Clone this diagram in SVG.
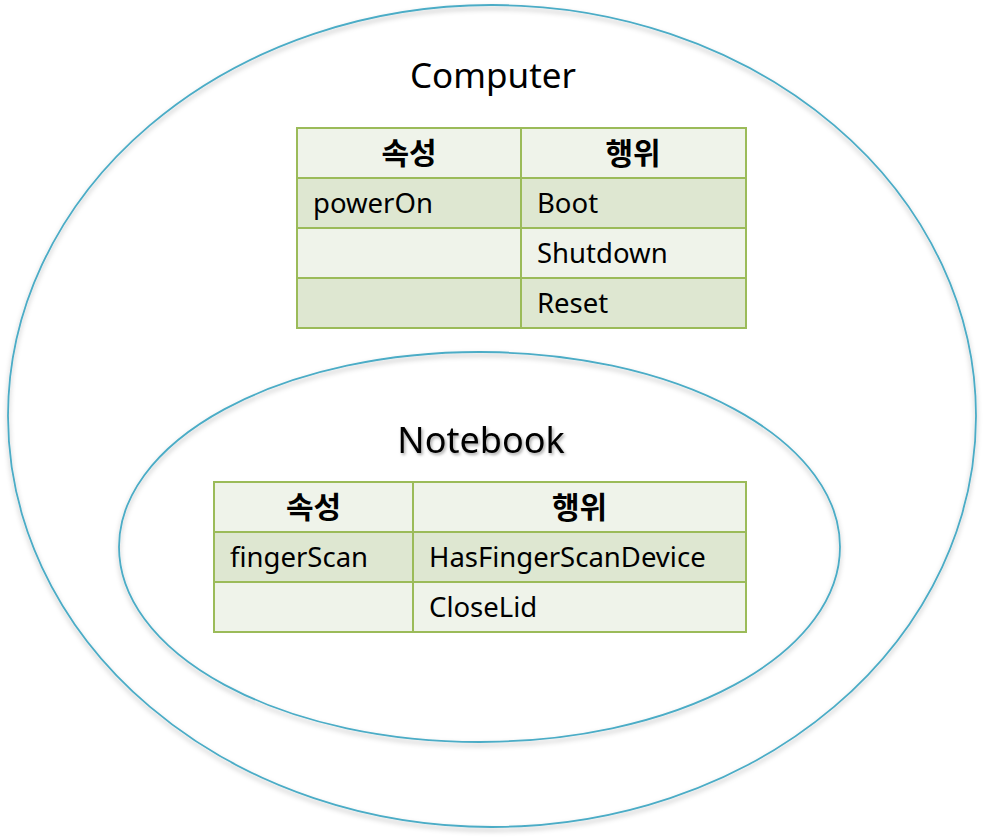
<svg xmlns="http://www.w3.org/2000/svg" width="984" height="839" viewBox="0 0 984 839">
<style>
.ell{fill:none;stroke:#4BACC6;stroke-width:1.8}
.cell-h{fill:#EFF3EA}
.cell-d{fill:#DEE7D1}
.cell-l{fill:#EFF3EA}
.grid{fill:none;stroke:#9BBB59;stroke-width:2}
.t{font-family:"Noto Sans","Noto Sans CJK KR",sans-serif;font-size:27.5px;fill:#000}
.h{font-family:"Noto Sans CJK KR","Noto Sans",sans-serif;font-size:30px;font-weight:bold;fill:#000;text-anchor:middle}
.title{font-family:"Noto Sans","Noto Sans CJK KR",sans-serif;font-size:35px;fill:#000;text-anchor:middle}
</style>
<defs>
<filter id="sh" x="-10%" y="-10%" width="120%" height="125%">
<feDropShadow dx="0" dy="3" stdDeviation="2.5" flood-color="#000" flood-opacity="0.3"/>
</filter>
<filter id="tsh" x="-10%" y="-30%" width="120%" height="160%">
<feDropShadow dx="1.5" dy="2" stdDeviation="1.5" flood-color="#000" flood-opacity="0.35"/>
</filter>
</defs>
<rect width="984" height="839" fill="#fff"/>
<g id="computer">
<ellipse class="ell" cx="492" cy="416" rx="484" ry="411" filter="url(#sh)"/>
<text class="title" x="493" y="88">Computer</text>
<g id="computer-table">
<rect class="cell-h" x="297" y="128" width="449" height="50"/>
<rect class="cell-d" x="297" y="178" width="449" height="50"/>
<rect class="cell-l" x="297" y="228" width="449" height="50"/>
<rect class="cell-d" x="297" y="278" width="449" height="50"/>
<path class="grid" d="M297 128H746V328H297Z M297 178H746 M297 228H746 M297 278H746 M521 128V328"/>
<text class="h" x="409" y="164">속성</text>
<text class="h" x="633" y="164">행위</text>
<text class="t" x="313" y="213">powerOn</text>
<text class="t" x="537" y="213">Boot</text>
<text class="t" x="537" y="263">Shutdown</text>
<text class="t" x="537" y="313">Reset</text>
</g>
</g>
<g id="notebook">
<ellipse class="ell" cx="479.5" cy="547" rx="360.5" ry="195" filter="url(#sh)"/>
<text class="title" x="481" y="453" style="font-size:36px" filter="url(#tsh)">Notebook</text>
<g id="notebook-table">
<rect class="cell-h" x="214" y="482" width="532" height="50"/>
<rect class="cell-d" x="214" y="532" width="532" height="50"/>
<rect class="cell-l" x="214" y="582" width="532" height="50"/>
<path class="grid" d="M214 482H746V632H214Z M214 532H746 M214 582H746 M413 482V632"/>
<text class="h" x="313.5" y="518">속성</text>
<text class="h" x="579.5" y="518">행위</text>
<text class="t" x="230" y="567">fingerScan</text>
<text class="t" x="429" y="567">HasFingerScanDevice</text>
<text class="t" x="429" y="617">CloseLid</text>
</g>
</g>
<g id="connectors"/>
</svg>
